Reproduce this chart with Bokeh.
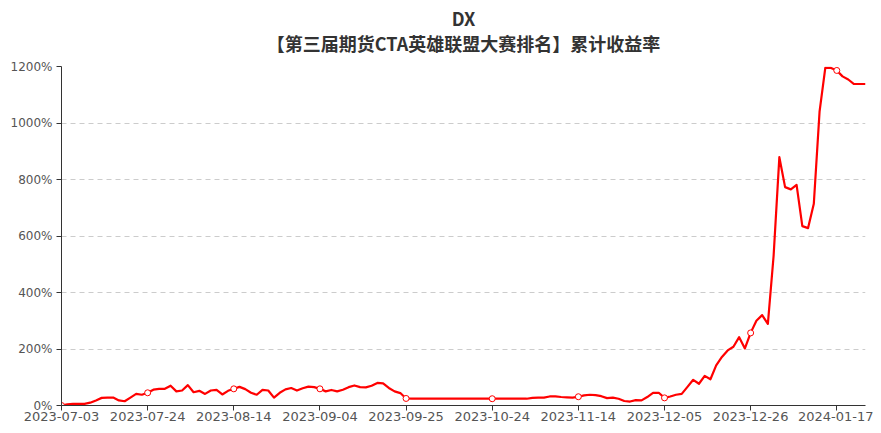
import pandas as pd
from bokeh.plotting import figure
from bokeh.models import Range1d, FixedTicker, PrintfTickFormatter, Title, ColumnDataSource
from bokeh.embed import file_html
from bokeh.resources import INLINE

title_main = "DX"
title_sub = "【第三届期货CTA英雄联盟大赛排名】累计收益率"

holidays = ["2023-09-29", "2023-10-02", "2023-10-03", "2023-10-04",
            "2023-10-05", "2023-10-06", "2024-01-01"]
dates = [d.strftime("%Y-%m-%d") for d in pd.bdate_range("2023-07-03", "2024-01-24")
         if d.strftime("%Y-%m-%d") not in holidays]

# cumulative return, %
returns = [
    0, 4, 6, 6, 6, 10, 18, 27, 28, 28,
    18, 15, 28, 41, 38, 45, 56, 59, 59, 70,
    50, 53, 72, 47, 52, 41, 53, 55, 39, 52,
    59, 66, 58, 45, 38, 55, 53, 28, 45, 57,
    62, 53, 61, 67, 65, 59, 50, 55, 50, 56,
    65, 71, 65, 64, 70, 80, 78, 62, 50, 44,
    25, 24, 24, 24, 24, 24, 24, 24, 24, 24,
    24, 24, 24, 24, 24, 24, 24, 24, 24, 24,
    24, 24, 27, 28, 28, 32, 32, 30, 29, 28,
    31, 36, 38, 37, 33, 26, 28, 24, 16, 14,
    19, 18, 30, 45, 45, 27, 32, 38, 41, 66,
    91, 77, 105, 93, 142, 172, 195, 208, 242, 202,
    257, 300, 320, 289, 530, 879, 773, 765, 781, 635,
    628, 714, 1040, 1195, 1195, 1186, 1165, 1154, 1138, 1138, 1138,
]

y_ticks = [0, 200, 400, 600, 800, 1000, 1200]
label_step = 15

n = min(len(dates), len(returns))
idx = list(range(n))
src = ColumnDataSource(dict(x=idx, y=returns[:n]))
tick_idx = list(range(0, n, label_step))
msrc = ColumnDataSource(dict(x=tick_idx, y=[returns[i] for i in tick_idx]))

p = figure(width=873, height=430, output_backend="svg", toolbar_location=None,
           x_range=Range1d(0, n - 1), y_range=Range1d(0, 1200),
           min_border_left=61, min_border_right=8, min_border_top=10, min_border_bottom=25)
p.outline_line_color = None

title_style = dict(align="center", vertical_align="bottom", text_font="Noto Sans CJK SC",
                   text_font_size="18px", text_font_style="bold", text_color="#333333")

# outermost title: DX
p.title.text = title_main
for k, v in title_style.items():
    setattr(p.title, k, v)
p.title.standoff = 3.5
# first added = nearest to the plot: a small blank spacer, then the subtitle
p.add_layout(Title(text=" ", standoff=-13, **title_style), "above")
p.add_layout(Title(text=title_sub, standoff=-9.5, **title_style), "above")

# grid
p.xgrid.visible = False
p.ygrid.ticker = FixedTicker(ticks=y_ticks[1:])
p.ygrid.grid_line_color = "#cccccc"
p.ygrid.grid_line_dash = "5 4"

# axes
p.yaxis.ticker = FixedTicker(ticks=y_ticks)
p.yaxis.formatter = PrintfTickFormatter(format="%d%%")
p.xaxis.ticker = FixedTicker(ticks=tick_idx)
p.xaxis.major_label_overrides = {i: dates[i] for i in tick_idx}
for ax in (p.xaxis, p.yaxis):
    ax.axis_line_color = "#333333"
    ax.major_tick_line_color = "#333333"
    ax.minor_tick_out = 0
    ax.minor_tick_in = 0
    ax.major_tick_in = 0
    ax.major_tick_out = 5
    ax.major_label_text_color = "#555555"
    ax.major_label_text_font = "DejaVu Sans"
p.yaxis.major_label_text_font_size = "12px"
p.yaxis.major_label_standoff = 4
p.xaxis.major_label_text_font_size = "13px"
p.xaxis.major_label_standoff = 1

p.line("x", "y", source=src, line_color="#ff0000", line_width=2.2, line_join="round")
p.scatter("x", "y", source=msrc, size=6, fill_color="white", line_color="#ff0000", line_width=1)

open("out.html", "w").write(file_html(p, INLINE))
